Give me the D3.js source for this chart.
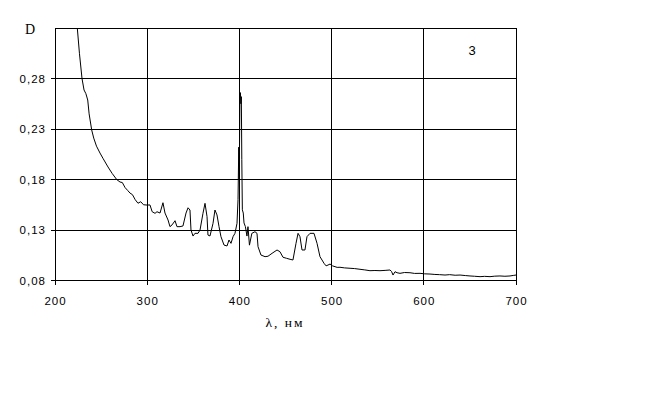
<!DOCTYPE html>
<html><head><meta charset="utf-8">
<script src="https://cdn.jsdelivr.net/npm/d3@7"></script>
<style>html,body{margin:0;padding:0;background:#fff;}svg{display:block;}text{fill:#000;}</style>
</head><body>
<svg id="c" width="660" height="400"></svg>
<script>
const xTicks = [200, 300, 400, 500, 600, 700];
const yTicks = [0.08, 0.13, 0.18, 0.23, 0.28];
const wavelength = [223,224.2,226.5,229.3,231.5,233.5,235.5,237,239.8,242,245,248.8,252,257.5,262,266.9,270.5,273,276,279,281.3,284,287,290,293,296,299.8,303,305.4,308.5,310.6,313.9,317.1,319.3,322.6,324.7,326.9,330.2,332.3,335.6,338.8,342.1,344.3,346.4,347.5,349.7,351.8,355.1,357.3,360.5,362.7,364.9,365.9,368.1,371.4,373.5,375.7,377.9,380,383.3,386.6,388.7,390.9,393.1,395.2,397.4,398.5,399.3,399.8,400.6,401.1,401.6,402.1,402.6,403.2,404.2,405,406.5,408.2,409.3,410.9,413.5,416.9,419.1,420.2,423.4,427.8,431,435.4,440.8,444,447.3,451,454.9,458.1,461.4,463.6,465.7,467.9,471.1,473.3,476.6,480.9,484.2,487.4,491.8,494,496.1,498.3,501,503.7,506,509.1,514,520,525,530.8,536,541.6,547,552.5,558,563.3,565,566.6,568.8,571,574.2,579,585,590,595.9,601,606.7,612,617,623,628,634,639.3,645,650.1,655,661,666,671.8,677,682.6,688,693.5,697,700];
const absorbance = [0.345,0.330,0.305,0.280,0.2686,0.265,0.2587,0.245,0.229,0.221,0.213,0.2062,0.201,0.1924,0.186,0.180,0.1775,0.177,0.172,0.169,0.1666,0.165,0.160,0.1565,0.158,0.155,0.1547,0.1548,0.1481,0.1465,0.1481,0.1468,0.157,0.1468,0.1399,0.1333,0.135,0.1392,0.1333,0.1333,0.134,0.1468,0.152,0.1498,0.130,0.124,0.1267,0.1267,0.130,0.1465,0.1564,0.1432,0.125,0.1241,0.1366,0.1498,0.1449,0.1333,0.1234,0.1151,0.1142,0.1201,0.1168,0.1234,0.1267,0.1366,0.160,0.212,0.180,0.262,0.266,0.255,0.262,0.200,0.150,0.1468,0.137,0.1333,0.124,0.1333,0.115,0.1267,0.1283,0.1267,0.1135,0.1052,0.1036,0.1040,0.1069,0.1102,0.1085,0.103,0.1020,0.101,0.1003,0.1168,0.1267,0.1234,0.1102,0.1102,0.1234,0.1267,0.1267,0.1168,0.1036,0.097,0.0945,0.0953,0.0963,0.0945,0.0937,0.0930,0.0931,0.0925,0.0921,0.0918,0.0911,0.0905,0.0897,0.0899,0.0897,0.0900,0.0904,0.0890,0.0854,0.0887,0.0877,0.0871,0.0879,0.0877,0.0870,0.0871,0.0866,0.0864,0.0860,0.0858,0.0854,0.0858,0.0852,0.0854,0.0849,0.0845,0.0842,0.0838,0.0841,0.0838,0.0843,0.0845,0.0842,0.0845,0.0850,0.0854];

const svg = d3.select("#c");
const x = d3.scaleLinear().domain([200, 700]).range([55, 516]);
const y = d3.scaleLinear().domain([0.08, 0.33]).range([280.5, 28]);
const X0 = x(200), X1 = x(700), Y0 = y(0.08), Y1 = y(0.33);

// grid
const g = svg.append("g").attr("shape-rendering", "crispEdges").attr("stroke", "#000").attr("stroke-width", 1);
g.selectAll("line.vx").data(xTicks).join("line")
  .attr("x1", d => x(d)).attr("x2", d => x(d)).attr("y1", Y1).attr("y2", Y0 + 4);
g.selectAll("line.hy").data(yTicks.concat([0.33])).join("line")
  .attr("x1", d => (d === 0.33 ? X0 : X0 - 4)).attr("x2", X1).attr("y1", d => y(d)).attr("y2", d => y(d));

// tick labels
const fmt = d3.format(".2f");
svg.append("g").selectAll("text").data(yTicks).join("text")
  .attr("x", 46).attr("y", d => y(d) + 4).attr("text-anchor", "end")
  .attr("font-family", "Liberation Sans, Arial, sans-serif").attr("font-size", 11.5)
  .attr("letter-spacing", 1)
  .text(d => fmt(d).replace(".", ","));
svg.append("g").selectAll("text").data(xTicks).join("text")
  .attr("x", d => x(d) + 0.5).attr("y", 305).attr("text-anchor", "middle")
  .attr("font-family", "Liberation Sans, Arial, sans-serif").attr("font-size", 11.5)
  .attr("letter-spacing", 1)
  .text(d => d);

svg.append("text").attr("x", 30).attr("y", 33.5).attr("text-anchor", "middle")
  .attr("font-family", "Liberation Serif, Times New Roman, serif").attr("font-size", 14).text("D");
svg.append("text").attr("x", 472).attr("y", 55).attr("text-anchor", "middle")
  .attr("font-family", "Liberation Sans, Arial, sans-serif").attr("font-size", 13).text("3");
svg.append("text").attr("x", 285).attr("y", 327).attr("text-anchor", "middle")
  .attr("font-family", "Liberation Serif, Times New Roman, serif").attr("font-size", 13.5)
  .attr("letter-spacing", 2).text("λ, нм");

// curve
svg.append("clipPath").attr("id", "clip").append("rect")
  .attr("x", X0).attr("y", Y1).attr("width", X1 - X0).attr("height", Y0 - Y1);
const pts = wavelength.map((w, i) => [w, absorbance[i]]);
svg.append("path").datum(pts)
  .attr("clip-path", "url(#clip)")
  .attr("fill", "none").attr("stroke", "#000").attr("stroke-width", 1)
  .attr("d", d3.line().x(d => x(d[0])).y(d => y(d[1])));
</script>
</body></html>
